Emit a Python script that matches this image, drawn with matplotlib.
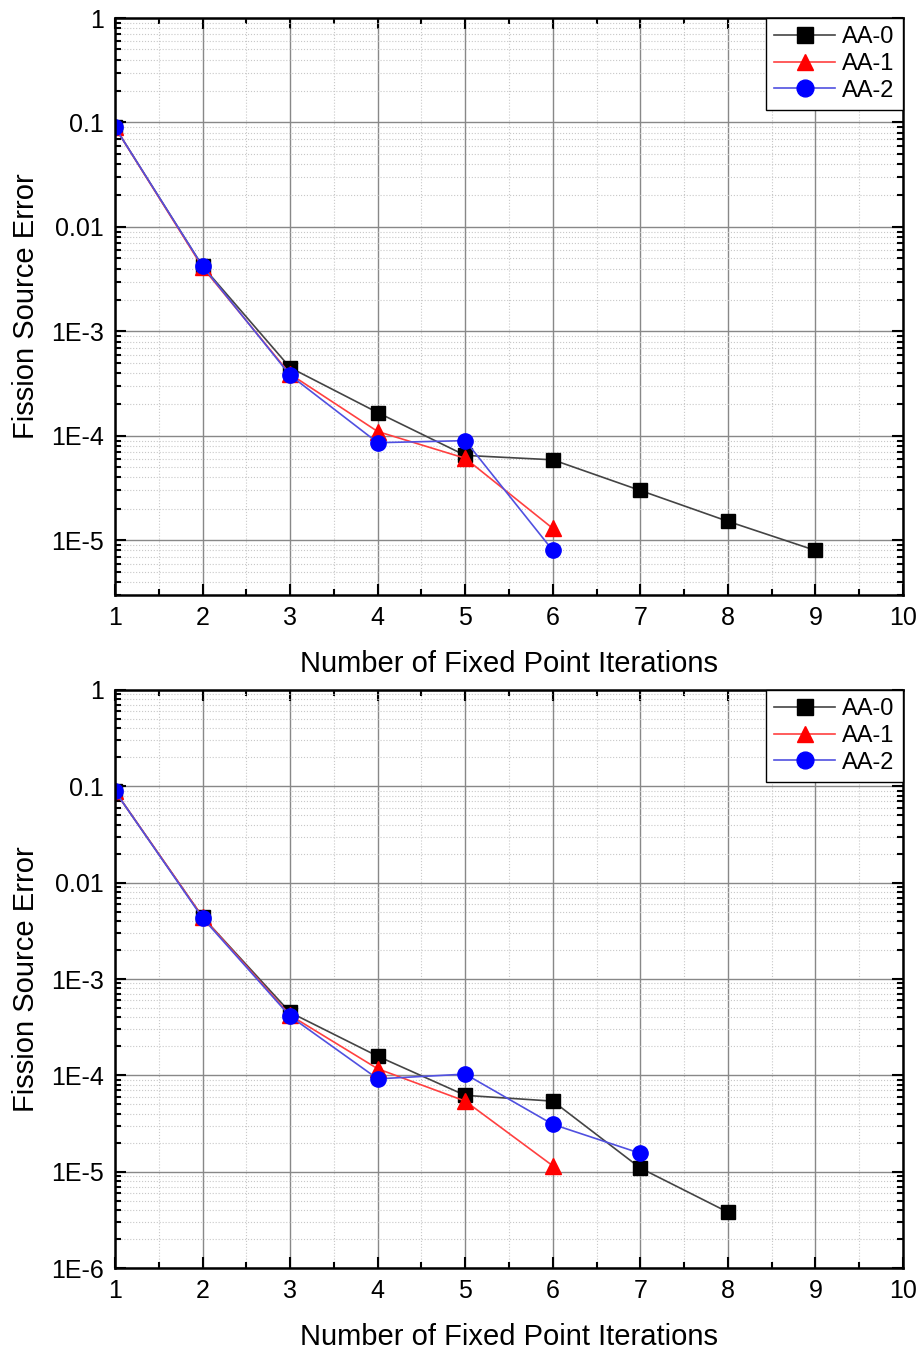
import numpy as np
import matplotlib.pyplot as plt
import matplotlib.ticker as mticker

plt.rcParams['font.family'] = ['Liberation Sans', 'DejaVu Sans']

# fission source error per fixed point iteration, case (a)
top_aa0_x = [1, 2, 3, 4, 5, 6, 7, 8, 9]
top_aa0_y = [0.09, 0.0042, 4.5e-4, 1.67e-4, 6.5e-5, 5.9e-5, 3.0e-5, 1.52e-5, 8.0e-6]
top_aa1_x = [1, 2, 3, 4, 5, 6]
top_aa1_y = [0.09, 0.0041, 3.9e-4, 1.1e-4, 6.1e-5, 1.3e-5]
top_aa2_x = [1, 2, 3, 4, 5, 6]
top_aa2_y = [0.09, 0.0042, 3.8e-4, 8.6e-5, 9.0e-5, 8.0e-6]

# case (b)
bot_aa0_x = [1, 2, 3, 4, 5, 6, 7, 8]
bot_aa0_y = [0.089, 0.0044, 4.5e-4, 1.58e-4, 6.2e-5, 5.4e-5, 1.09e-5, 3.8e-6]
bot_aa1_x = [1, 2, 3, 4, 5, 6]
bot_aa1_y = [0.089, 0.0044, 4.2e-4, 1.17e-4, 5.4e-5, 1.15e-5]
bot_aa2_x = [1, 2, 3, 4, 5, 6, 7]
bot_aa2_y = [0.089, 0.0043, 4.1e-4, 9.2e-5, 1.03e-4, 3.1e-5, 1.55e-5]

ytick_vals = [1e-6, 1e-5, 1e-4, 1e-3, 1e-2, 1e-1, 1]
ytick_text = ['1E-6', '1E-5', '1E-4', '1E-3', '0.01', '0.1', '1']


def draw_panel(ax, series, ymin):
    styles = [('AA-0', 'black', '#444444', 's', 10),
              ('AA-1', 'red', '#ff4040', '^', 11),
              ('AA-2', 'blue', '#5050e0', 'o', 11)]
    for (xs, ys), (lbl, mc, lc, mk, ms) in zip(series, styles):
        ax.plot(xs, ys, color=lc, lw=1.2, marker=mk, markersize=ms,
                markerfacecolor=mc, markeredgecolor=mc, label=lbl)
    ax.set_yscale('log')
    ax.set_xlim(1, 10)
    ax.set_ylim(ymin, 1)
    ax.xaxis.set_major_locator(mticker.MultipleLocator(1))
    ax.xaxis.set_minor_locator(mticker.MultipleLocator(0.5))
    ax.yaxis.set_major_locator(mticker.FixedLocator(ytick_vals))
    ax.yaxis.set_major_formatter(mticker.FixedFormatter(ytick_text))
    ax.yaxis.set_minor_locator(mticker.LogLocator(base=10, subs=np.arange(2, 10), numticks=20))
    ax.yaxis.set_minor_formatter(mticker.NullFormatter())
    ax.tick_params(which='both', direction='in', top=True, right=True, width=1.5)
    ax.tick_params(which='major', length=8, labelsize=18, pad=8)
    ax.tick_params(which='minor', length=4)
    ax.grid(which='major', color='#888888', lw=1.0)
    ax.grid(which='minor', color='#c8c8c8', lw=0.8, ls=':')
    ax.set_axisbelow(True)
    for sp in ax.spines.values():
        sp.set_linewidth(1.8)
    ax.set_xlabel('Number of Fixed Point Iterations', fontsize=21, labelpad=14)
    ax.set_ylabel('Fission Source Error', fontsize=21, labelpad=8)
    leg = ax.legend(loc='upper right', fontsize=17, fancybox=False, framealpha=1,
                    edgecolor='black', borderaxespad=0, handlelength=2.6,
                    handletextpad=0.3, labelspacing=0.2, borderpad=0.35,
                    markerscale=1.1)
    leg.get_frame().set_linewidth(1.0)


fig = plt.figure(figsize=(9.21, 13.54), dpi=100)
ax1 = fig.add_axes([0.1249, 0.5606, 0.8556, 0.4261])
ax2 = fig.add_axes([0.1249, 0.0635, 0.8556, 0.4269])

draw_panel(ax1, [(top_aa0_x, top_aa0_y), (top_aa1_x, top_aa1_y), (top_aa2_x, top_aa2_y)], 3e-6)
draw_panel(ax2, [(bot_aa0_x, bot_aa0_y), (bot_aa1_x, bot_aa1_y), (bot_aa2_x, bot_aa2_y)], 1e-6)

fig.savefig('out.png', dpi=100)
